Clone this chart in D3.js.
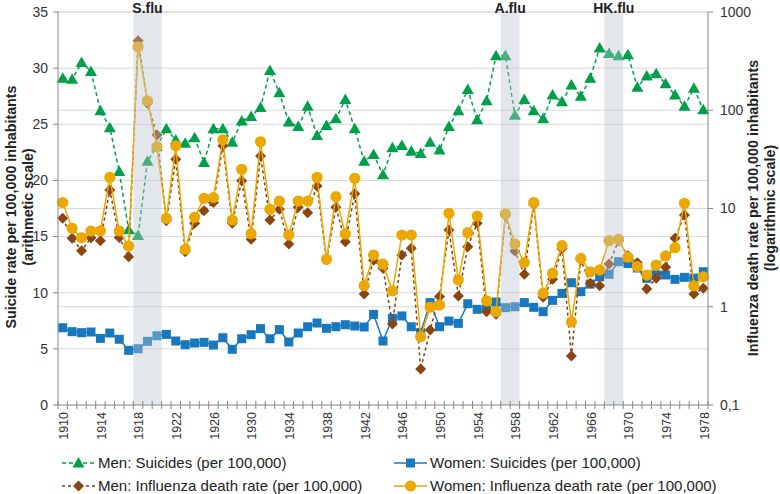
<!DOCTYPE html>
<html><head><meta charset="utf-8">
<script src="https://cdn.jsdelivr.net/npm/d3@7"></script>
<style>
html,body{margin:0;padding:0;background:#fff;}
svg{display:block;font-family:"Liberation Sans",Arial,sans-serif;}
</style></head>
<body>
<svg id="chart" width="780" height="494"></svg>
<script>
const years = [1910,1911,1912,1913,1914,1915,1916,1917,1918,1919,
1920,1921,1922,1923,1924,1925,1926,1927,1928,1929,
1930,1931,1932,1933,1934,1935,1936,1937,1938,1939,
1940,1941,1942,1943,1944,1945,1946,1947,1948,1949,
1950,1951,1952,1953,1954,1955,1956,1957,1958,1959,
1960,1961,1962,1963,1964,1965,1966,1967,1968,1969,
1970,1971,1972,1973,1974,1975,1976,1977,1978];

const menSuicides = [29.1,29.0,30.5,29.7,26.2,24.7,20.8,15.6,15.1,21.7,
23.0,24.6,23.6,23.3,23.8,21.6,24.6,24.6,23.4,25.3,
25.7,26.5,29.8,27.8,25.2,24.8,26.6,24.0,24.9,25.5,
27.2,24.6,21.7,22.3,20.5,22.9,23.1,22.6,22.4,23.4,
22.7,24.8,26.2,28.1,25.4,27.1,31.1,31.1,25.8,27.2,
26.2,25.5,27.6,27.0,28.5,27.5,29.1,31.8,31.3,31.1,
31.2,28.3,29.3,29.5,28.6,27.6,26.6,28.2,26.3];

const womenSuicides = [6.88,6.53,6.44,6.50,5.93,6.41,5.85,4.87,5.01,5.67,
6.17,6.29,5.70,5.37,5.52,5.58,5.34,5.99,4.96,5.90,
6.26,6.80,5.90,6.71,5.61,6.41,6.97,7.30,6.83,6.97,
7.15,7.03,6.95,8.07,5.70,7.72,7.93,6.97,6.44,9.12,
6.97,7.48,7.27,9.02,8.52,8.61,9.17,8.67,8.75,9.12,
8.70,8.31,9.32,9.94,10.89,10.09,10.77,11.42,11.64,12.76,
12.6,12.2,11.28,11.6,11.58,11.19,11.37,11.3,11.87];

const menFlu = [7.95,4.97,3.72,5.04,4.70,15.4,5.08,3.23,510,118,
56,7.5,31.7,3.63,7.07,9.49,11.5,43.5,7.07,19.2,
4.86,34.2,7.64,9.82,4.35,10.3,9.06,16.9,3.0,10.3,
4.59,14.1,1.35,2.98,2.46,0.667,3.36,3.93,0.232,0.58,
1.27,6.04,1.29,4.09,7.07,0.89,0.84,8.5,3.69,2.14,
10.9,1.25,1.90,3.9,0.316,3.0,1.73,1.64,2.72,4.7,
3.3,2.81,1.52,1.95,2.52,4.97,8.59,1.35,1.54];

const womenFlu = [11.5,6.29,5.04,5.90,5.94,20.8,5.90,4.15,443,125,
42.6,7.95,43.5,3.85,8.13,12.7,12.9,50,7.64,25.1,
5.54,47.8,9.82,11.9,5.37,11.9,11.9,20.8,3.04,13.2,
5.50,20.3,1.64,3.36,2.71,1.45,5.37,5.37,0.495,0.99,
1.04,8.93,1.87,5.67,8.39,1.15,0.89,8.79,4.35,2.81,
11.5,1.37,2.19,4.19,0.70,3.11,2.27,2.37,4.70,4.86,
3.19,2.56,2.10,2.66,3.29,3.99,11.3,1.63,2.02];

const leftTicks = [0,5,10,15,20,25,30,35];
const rightTicks = [0.1,1,10,100,1000];
const rightTickLabels = ["0,1","1","10","100","1000"];
const xLabelYears = [1910,1914,1918,1922,1926,1930,1934,1938,1942,1946,1950,1954,1958,1962,1966,1970,1974,1978];
const fluBands = [
  {label:"S.flu", start:1918, end:1920},
  {label:"A.flu", start:1957, end:1958},
  {label:"HK.flu", start:1968, end:1969}
];
const seriesNames = ["Men: Suicides (per 100,000)","Women: Suicides (per 100,000)",
  "Men: Influenza death rate (per 100,000)","Women: Influenza death rate (per 100,000)"];

const svg = d3.select("#chart");
const L = 58, R = 708, T = 12, B = 405;

const x = d3.scaleBand().domain(years).range([L, R]).paddingInner(0).paddingOuter(0);
const xc = d => x(d) + x.bandwidth()/2;
const yL = d3.scaleLinear().domain([0,35]).range([B,T]);
const yR = d3.scaleLog().domain([0.1,1000]).range([B,T]);

const gridColor = "#d9d9d9";
const axisColor = "#868686";
const textColor = "#333";

// gridlines
const grid = svg.append("g");
grid.selectAll("line.gl").data(leftTicks.filter(d=>d>0)).join("line")
  .attr("x1",L).attr("x2",R).attr("y1",d=>yL(d)).attr("y2",d=>yL(d))
  .attr("stroke",gridColor).attr("stroke-width",1);
grid.selectAll("line.gr").data(rightTicks.filter(d=>d>0.1)).join("line")
  .attr("x1",L).attr("x2",R).attr("y1",d=>yR(d)).attr("y2",d=>yR(d))
  .attr("stroke",gridColor).attr("stroke-width",1);

// series
const specs = [
  {vals:menSuicides, y:yL, color:"#00a04b", dash:"4,3", shape:"tri"},
  {vals:womenSuicides, y:yL, color:"#1878be", dash:null, shape:"sq"},
  {vals:menFlu, y:yR, color:"#8b4513", dash:"3,3", shape:"dia", lineColor:"#8b3a0e"},
  {vals:womenFlu, y:yR, color:"#eba800", dash:null, shape:"circ"}
];

function marker(g, shape, color, cx, cy){
  if(shape==="tri"){
    g.append("path").attr("d","M0,-6 L6,4.5 L-6,4.5 Z").attr("transform",`translate(${cx},${cy})`).attr("fill",color);
  } else if(shape==="sq"){
    g.append("rect").attr("x",cx-4.5).attr("y",cy-4.5).attr("width",9).attr("height",9).attr("fill",color);
  } else if(shape==="dia"){
    g.append("path").attr("d","M0,-5.5 L5.5,0 L0,5.5 L-5.5,0 Z").attr("transform",`translate(${cx},${cy})`).attr("fill",color);
  } else {
    g.append("circle").attr("cx",cx).attr("cy",cy).attr("r",5.6).attr("fill",color);
  }
}

specs.forEach(s => {
  const g = svg.append("g");
  const line = d3.line().x((d,i)=>xc(years[i])).y(d=>s.y(d));
  g.append("path").datum(s.vals).attr("d",line).attr("fill","none")
    .attr("stroke", s.lineColor||s.color).attr("stroke-width",1.5)
    .attr("stroke-dasharray", s.dash);
  s.vals.forEach((v,i)=> marker(g, s.shape, s.color, xc(years[i]), s.y(v)));
});

// flu bands (overlay)
const bands = svg.append("g");
fluBands.forEach(b=>{
  const x0 = x(b.start), x1 = x(b.end) + x.bandwidth();
  bands.append("rect").attr("x",x0).attr("y",T).attr("width",x1-x0).attr("height",B-T)
    .attr("fill","#b8c2d0").attr("opacity",0.4);
  bands.append("text").attr("x",(x0+x1)/2).attr("y",13).attr("text-anchor","middle")
    .attr("font-weight","bold").attr("font-size",14).attr("fill","#222").text(b.label);
});

// axes
const ax = svg.append("g");
ax.append("line").attr("x1",L).attr("x2",L).attr("y1",T).attr("y2",B).attr("stroke",axisColor);
ax.append("line").attr("x1",R).attr("x2",R).attr("y1",T).attr("y2",B).attr("stroke",axisColor);
ax.append("line").attr("x1",L).attr("x2",R).attr("y1",B).attr("y2",B).attr("stroke",axisColor);
leftTicks.forEach(t=>{
  ax.append("line").attr("x1",L-5).attr("x2",L).attr("y1",yL(t)).attr("y2",yL(t)).attr("stroke",axisColor);
  ax.append("text").attr("x",L-10).attr("y",yL(t)).attr("dy","0.35em").attr("text-anchor","end")
    .attr("font-size",14).attr("fill",textColor).text(t);
});
rightTicks.forEach((t,i)=>{
  ax.append("line").attr("x1",R).attr("x2",R+5).attr("y1",yR(t)).attr("y2",yR(t)).attr("stroke",axisColor);
  ax.append("text").attr("x",R+12).attr("y",yR(t)).attr("dy","0.35em").attr("text-anchor","start")
    .attr("font-size",14).attr("fill",textColor).text(rightTickLabels[i]);
});
// x ticks at category boundaries
const bounds = years.map(d=>x(d)).concat([R]);
bounds.forEach(bx=>{
  ax.append("line").attr("x1",bx).attr("x2",bx).attr("y1",B-4).attr("y2",B+4).attr("stroke",axisColor);
});
xLabelYears.forEach(yr=>{
  ax.append("text").attr("transform",`translate(${xc(yr)+1},${B+7}) rotate(-90)`)
    .attr("text-anchor","end").attr("dy","0.35em").attr("font-size",12.5).attr("fill",textColor).text(yr);
});

// axis titles
const lt = svg.append("text").attr("transform",`translate(16,207) rotate(-90)`)
  .attr("text-anchor","middle").attr("font-weight","bold").attr("font-size",14.3).attr("fill","#222");
lt.append("tspan").attr("x",0).attr("y",0).text("Suicide rate per 100,000 inhabitants");
lt.append("tspan").attr("x",0).attr("y",17).text("(arithmetic scale)");
const rt = svg.append("text").attr("transform",`translate(758,208) rotate(-90)`)
  .attr("text-anchor","middle").attr("font-weight","bold").attr("font-size",14.3).attr("fill","#222");
rt.append("tspan").attr("x",0).attr("y",0).text("Influenza death rate per 100,000 inhabitants");
rt.append("tspan").attr("x",0).attr("y",17).text("(logarithmic scale)");

// legend
const leg = svg.append("g");
const legPos = [[62,463],[394,463],[62,486],[394,486]];
specs.forEach((s,i)=>{
  const [lx,ly] = legPos[i];
  leg.append("line").attr("x1",lx).attr("x2",lx+33).attr("y1",ly).attr("y2",ly)
    .attr("stroke",s.lineColor||s.color).attr("stroke-width",1.5).attr("stroke-dasharray",s.dash);
  marker(leg, s.shape, s.color, lx+16.5, ly);
  leg.append("text").attr("x",lx+36).attr("y",ly).attr("dy","0.35em").attr("font-size",15)
    .attr("fill","#222").text(seriesNames[i]);
});
</script>
</body></html>
